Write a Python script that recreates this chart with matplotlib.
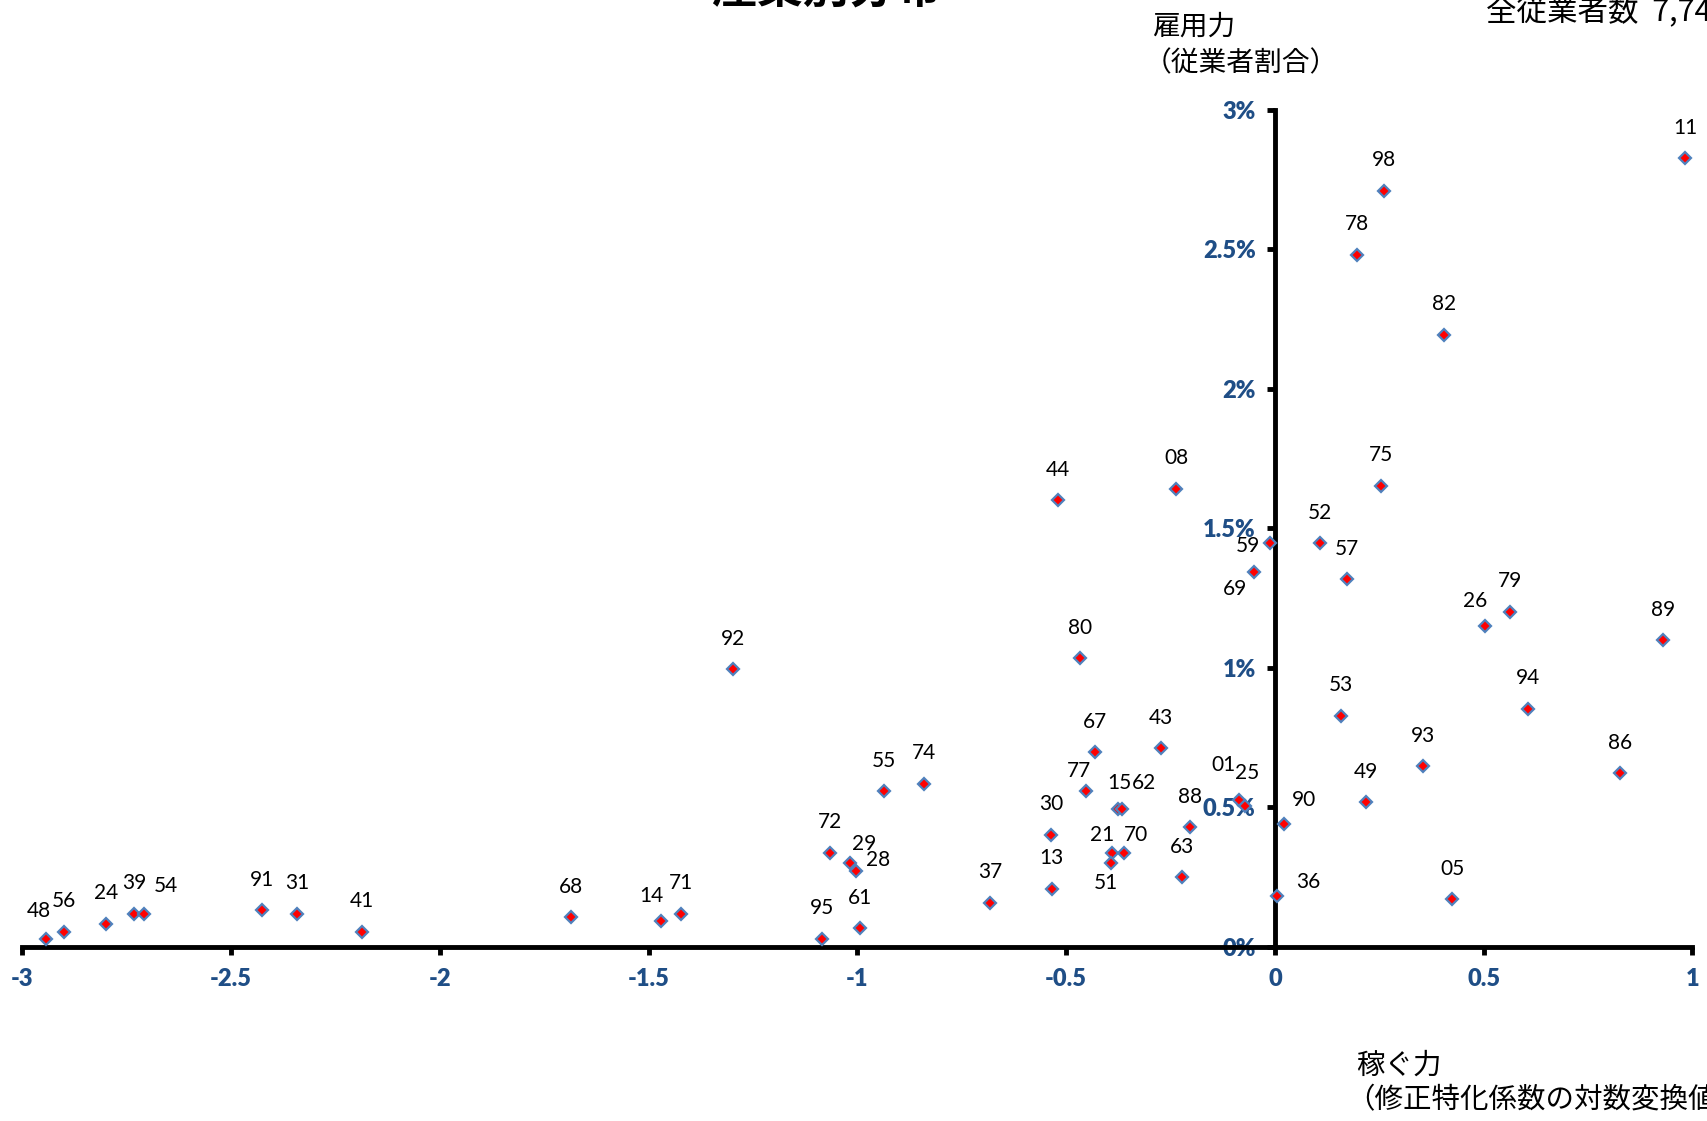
import matplotlib
matplotlib.use('Agg')
from matplotlib import pyplot as plt
from matplotlib.ticker import FuncFormatter

# 産業コード / 稼ぐ力(x) / 雇用力(y, %)
codes = ['48', '56', '24', '39', '54', '91', '31', '41', '68', '14', '71',
         '95', '61', '72', '29', '28', '55', '74', '92', '37', '13', '30',
         '77', '67', '80', '44', '21', '51', '70', '15', '62', '43', '88',
         '63', '08', '01', '25', '59', '69', '90', '36', '49', '05', '53',
         '93', '52', '57', '75', '78', '98', '82', '26', '79', '94', '86',
         '89', '11']
kasegu = [-2.944, -2.901, -2.800, -2.732, -2.710, -2.426, -2.343, -2.188,
          -1.686, -1.470, -1.423, -1.084, -0.994, -1.067, -1.018, -1.003,
          -0.937, -0.841, -1.297, -0.683, -0.535, -0.537, -0.452, -0.431,
          -0.468, -0.519, -0.391, -0.392, -0.362, -0.375, -0.366, -0.273,
          -0.204, -0.223, -0.237, -0.086, -0.073, -0.012, -0.050, 0.022,
          0.006, 0.217, 0.424, 0.159, 0.355, 0.108, 0.173, 0.254, 0.197,
          0.261, 0.404, 0.503, 0.564, 0.605, 0.826, 0.930, 0.983]
koyou = [0.029, 0.054, 0.082, 0.118, 0.118, 0.131, 0.118, 0.054, 0.106,
         0.092, 0.118, 0.029, 0.066, 0.337, 0.300, 0.273, 0.557, 0.584,
         0.995, 0.158, 0.208, 0.402, 0.557, 0.698, 1.034, 1.601, 0.337,
         0.299, 0.337, 0.493, 0.493, 0.711, 0.429, 0.249, 1.641, 0.526,
         0.505, 1.446, 1.343, 0.440, 0.183, 0.518, 0.170, 0.828, 0.647,
         1.446, 1.317, 1.652, 2.480, 2.710, 2.193, 1.150, 1.201, 0.853,
         0.622, 1.098, 2.826]

x_ticks = [-3, -2.5, -2, -1.5, -1, -0.5, 0, 0.5, 1]
y_ticks = [0, 0.5, 1, 1.5, 2, 2.5, 3]

# ラベル位置の調整 (points)
label_offset = {'48': (-5, 20), '54': (16, 20), '14': (-7, 18),
                '29': (10, 14), '28': (16, 8), '77': (-5, 15),
                '21': (-7, 13), '70': (9, 13), '51': (-4, -14),
                '15': (1, 19), '62': (16, 19), '01': (-11, 25),
                '25': (2, 24), '59': (-16, -2), '69': (-14, -12),
                '90': (14, 17), '36': (22, 10), '26': (-7, 18)}

num_font = ['Lato', 'DejaVu Sans']
jp_font = ['Noto Sans CJK JP', 'DejaVu Sans']
blue = '#1F4E86'

fig = plt.figure(figsize=(17.08, 11.21), dpi=100)
ax = fig.add_axes([0.01317, 0.1554, 0.97775, 0.74665])

ax.plot(kasegu, koyou, linestyle='none', marker='D', markersize=6.5,
        markerfacecolor='red', markeredgecolor='#4F81BD',
        markeredgewidth=1.6, zorder=3)

for c, x, y in zip(codes, kasegu, koyou):
    dx, dy = label_offset.get(c, (0, 22))
    ax.annotate(c, (x, y), xytext=(dx, dy), textcoords='offset points',
                ha='center', va='center', fontsize=15, family=num_font,
                color='black', zorder=4)

ax.set_xlim(-3, 1)
ax.set_ylim(0, 3)

# 軸を0で交差させる
ax.spines['left'].set_position(('data', 0))
ax.spines['bottom'].set_position(('data', 0))
ax.spines['right'].set_visible(False)
ax.spines['top'].set_visible(False)
for s in ['left', 'bottom']:
    ax.spines[s].set_linewidth(3.5)
    ax.spines[s].set_zorder(2)

ax.set_xticks(x_ticks)
ax.set_yticks(y_ticks)
ax.xaxis.set_major_formatter(FuncFormatter(lambda v, p: '%g' % v))
ax.yaxis.set_major_formatter(FuncFormatter(lambda v, p: '%g%%' % v))
ax.tick_params(axis='both', direction='out', length=6, width=3.5,
               labelsize=17, labelcolor=blue)
ax.tick_params(axis='x', pad=9)
ax.tick_params(axis='y', pad=8)
for lab in ax.get_xticklabels() + ax.get_yticklabels():
    lab.set_fontweight('heavy')
    lab.set_family(num_font)

# 軸タイトルなど
fig.text(1152 / 1708, 1 - 27 / 1121, '雇用力', fontsize=20, family=jp_font,
         ha='left', va='center')
fig.text(1144 / 1708, 1 - 63 / 1121, '（従業者割合）', fontsize=20,
         family=jp_font, ha='left', va='center')
fig.text(1356 / 1708, 1 - 1066 / 1121, '稼ぐ力', fontsize=20.5,
         family=jp_font, ha='left', va='center')
fig.text(1346 / 1708, 1 - 1100 / 1121, '（修正特化係数の対数変換値）',
         fontsize=20.5, family=jp_font, ha='left', va='center')
fig.text(1486 / 1708, 1 - 11 / 1121, '全従業者数  7,74', fontsize=22,
         family=jp_font, ha='left', va='center')
fig.text(826 / 1708, 1 - 3 / 1121, '産業別分布', fontsize=33,
         fontweight='bold', family=jp_font, ha='center', va='baseline')

fig.savefig('out.png', dpi=100)
